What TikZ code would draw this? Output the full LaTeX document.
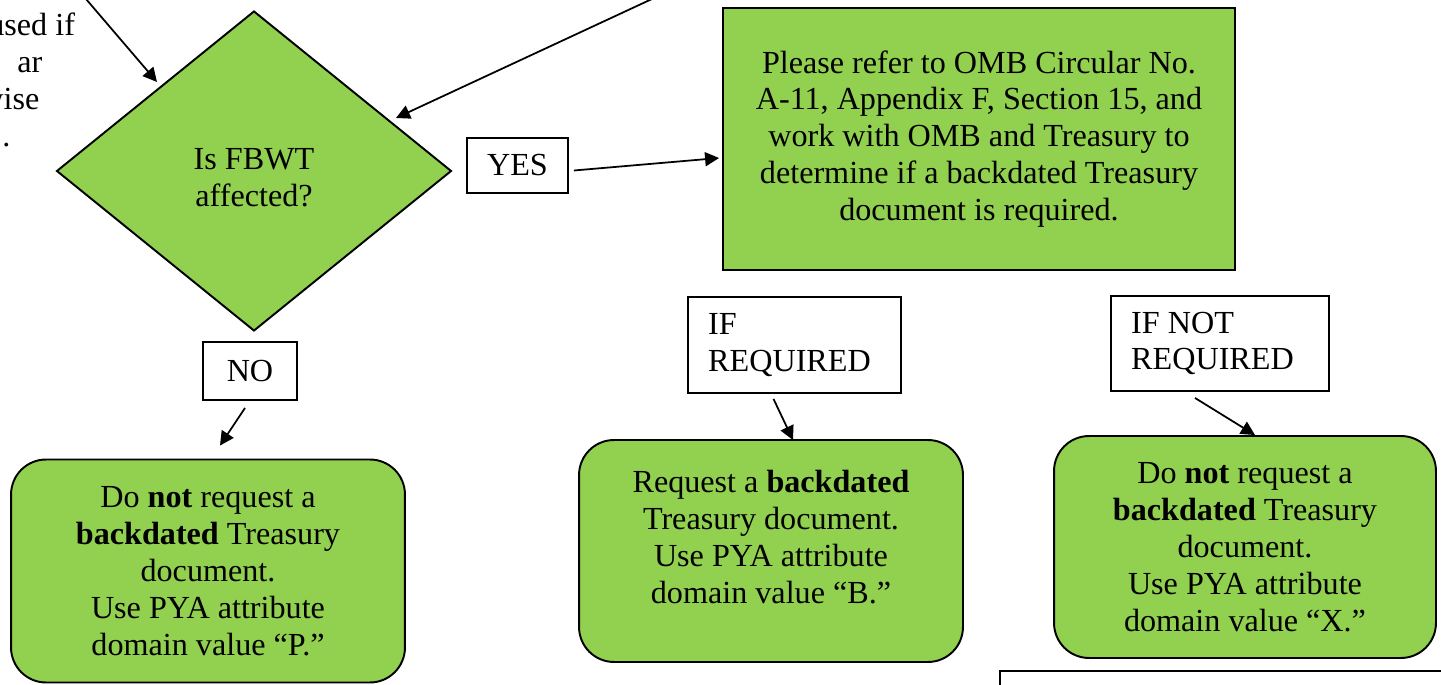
\documentclass[tikz,border=0pt]{standalone}
\usepackage{fontspec}
\setmainfont{Liberation Serif}
\usepackage{tikz}
\usetikzlibrary{positioning, shapes.geometric, calc, arrows.meta}
\definecolor{trGreen}{RGB}{146, 208, 80}
\tikzset{
    base/.style={
        font=\fontsize{18.3}{21}\selectfont,
        align=center,
        text=black
    },
    decision/.style={
        base,
        diamond,
        draw=black,
        line width=1.1pt,
        fill=trGreen,
        inner sep=0pt,
        minimum width=7.9cm,
        minimum height=6.4cm
    },
    action/.style={
        base,
        rectangle,
        draw=black,
        line width=1.1pt,
        fill=trGreen,
        minimum width=10.24cm,
        minimum height=5.24cm
    },
    outcome/.style={
        base,
        rectangle,
        rounded corners=0.7cm,
        draw=black,
        line width=1.1pt,
        fill=trGreen,
        minimum height=4.44cm
    },
    tag/.style={
        base,
        rectangle,
        draw=black,
        line width=1.1pt,
        fill=white
    },
    flow/.style={
        -{Triangle[length=0.28cm, width=0.28cm]},
        line width=1pt,
        color=black
    }
}
\begin{document}
\begin{tikzpicture}[x=0.02cm, y=-0.02cm]
  \useasboundingbox (0,0) rectangle (1441,685);
  \clip (0,0) rectangle (1441,685);

  % Components
  \node[base, align=left, anchor=north west, inner sep=0pt] (note) at (-12,13) {used if\\\hspace*{0.58cm}ar\\\hspace*{-0.16cm}wise\\\hspace*{0.28cm}.};
  \node[decision] (fbwt) at (254,171) {\rule{0pt}{0.7cm}Is FBWT\\affected?};
  \node[action] (omb) at (979,139) {Please refer to OMB Circular No.\\A-11, Appendix F, Section 15, and\\work with OMB and Treasury to\\determine if a backdated Treasury\\document is required.};

  % Labels
  \node[tag, minimum width=2.02cm, minimum height=1.1cm] (yes) at (517.5,165.5) {YES};
  \node[tag, minimum width=1.88cm, minimum height=1.16cm] (no) at (250,371) {NO};
  \node[tag, align=left, minimum width=4.26cm, minimum height=1.92cm] (ifReq) at (794.5,345) {IF\\REQUIRED\hspace*{0.2cm}};
  \node[tag, align=left, minimum width=4.36cm, minimum height=1.9cm] (ifNotReq) at (1220,343.5) {IF NOT\\REQUIRED\hspace*{0.3cm}};

  % Results
  \node[outcome, minimum width=7.88cm, minimum height=4.46cm] (useP) at (208,571) {Do \textbf{not} request a\\\textbf{backdated} Treasury\\document.\\Use PYA attribute\\domain value “P.”};
  \node[outcome, minimum width=7.68cm] (useB) at (771,551) {Request a \textbf{backdated}\\Treasury document.\\Use PYA attribute\\domain value “B.”\rule[-0.56cm]{0pt}{0pt}};
  \node[outcome, minimum width=7.64cm] (useX) at (1245,547) {Do \textbf{not} request a\\\textbf{backdated} Treasury\\document.\\Use PYA attribute\\domain value “X.”};
  \node[tag, anchor=north west, minimum width=10cm, minimum height=2cm] (nextBox) at (999,670) {};

  % Connections
  \coordinate (fromLeft) at (80,-8);
  \coordinate (fromTop) at (667,-8);
  \draw[flow] (fromLeft) -- ($(fbwt)+(-97,-89)$);
  \draw[flow] (fromTop) -- ($(fbwt)+(142,-53)$);
  \draw[flow] ($(yes.east)+(5,5)$) -- ($(omb.west)+(-3,19)$);
  \draw[flow] ($(no.south)+(-5,7)$) -- ($(useP.north)+(12,-13)$);
  \draw[flow] ($(ifReq.south)+(-21,5)$) -- ($(useB.north)+(22,1)$);
  \draw[flow] ($(ifNotReq.south)+(-25,6)$) -- ($(useX.north)+(10,0)$);
\end{tikzpicture}
\end{document}
